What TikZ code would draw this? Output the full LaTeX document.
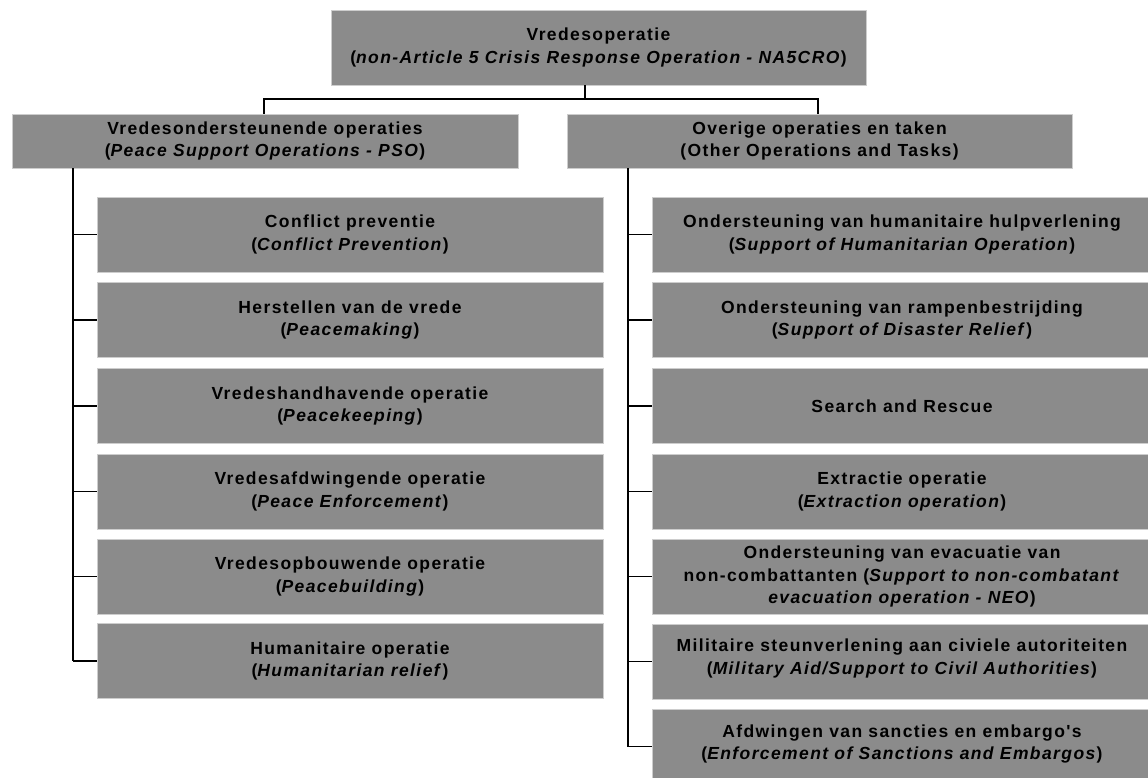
\documentclass[tikz,border=0pt]{standalone}
\usepackage{fontspec}
\setmainfont{Liberation Sans}[LetterSpace=8, Ligatures=TeXOff]
\definecolor{boxgray}{RGB}{139,139,139}
\definecolor{boxedge}{RGB}{205,205,205}
\tikzset{
  box/.style={rectangle, fill=boxgray, draw=boxedge, line width=0.8pt,
    inner sep=0pt, align=center, text=black,
    font=\bfseries\fontsize{17.5}{22.5}\selectfont},
  topbox/.style={box, minimum width=535pt, minimum height=75pt},
  headbox/.style={box, minimum width=506pt, minimum height=54pt},
  leftbox/.style={box, minimum width=506pt, minimum height=75pt},
  rightbox/.style={box, minimum width=500pt, minimum height=75pt},
  link/.style={draw=black, line width=1.3pt},
  mainlink/.style={draw=black, line width=1.9pt}
}
\begin{document}
\begin{tikzpicture}[x=1pt, y=-1pt]
\useasboundingbox[fill=white] (0,0) rectangle (1148,778);

% top of the hierarchy
\node[topbox] (top) at (598.5,47.5)
  {Vredesoperatie\\(\textit{non-Article 5 Crisis Response Operation - NA5CRO})};

% second level
\node[headbox] (pso) at (265,141)
  {Vredesondersteunende operaties\\(\textit{Peace Support Operations - PSO})};
\node[headbox, minimum width=505pt] (oot) at (819.5,141)
  {Overige operaties en taken\\(Other Operations and Tasks)};

% peace support operations
\node[leftbox] (l1) at (350,234.5) {Conflict preventie\\(\textit{Conflict Prevention})};
\node[leftbox] (l2) at (350,320)   {Herstellen van de vrede\\(\textit{Peacemaking})};
\node[leftbox] (l3) at (350,406)   {Vredeshandhavende operatie\\(\textit{Peacekeeping})};
\node[leftbox] (l4) at (350,491.5) {Vredesafdwingende operatie\\(\textit{Peace Enforcement})};
\node[leftbox] (l5) at (350,576.5) {Vredesopbouwende operatie\\(\textit{Peacebuilding})};
\node[leftbox] (l6) at (350,661)   {Humanitaire operatie\\(\textit{Humanitarian relief})};

% other operations and tasks
\node[rightbox] (r1) at (902,234.5) {Ondersteuning van humanitaire hulpverlening\\(\textit{Support of Humanitarian Operation})};
\node[rightbox] (r2) at (902,320)   {Ondersteuning van rampenbestrijding\\(\textit{Support of Disaster Relief})};
\node[rightbox] (r3) at (902,406)   {Search and Rescue};
\node[rightbox] (r4) at (902,491.5) {Extractie operatie\\(\textit{Extraction operation})};
\node[rightbox] (r5) at (902,576.5) {Ondersteuning van evacuatie van\\non-combattanten (\textit{Support to non-combatant}\\\textit{evacuation operation - NEO})};
\node[rightbox] (r6) at (902,661.5) {Militaire steunverlening aan civiele autoriteiten\\(\textit{Military Aid/Support to Civil Authorities})\\[-12.5pt]};
\node[rightbox] (r7) at (902,746.5) {Afdwingen van sancties en embargo's\\(\textit{Enforcement of Sanctions and Embargos})\\[-13.5pt]};

% junction points of the connectors
\coordinate (hub) at (585,99);
\coordinate (lstem) at (264,99);
\coordinate (rstem) at (818,99);
\coordinate (ltrunk) at (73,168);
\coordinate (rtrunk) at (628,168);

% top to second level
\draw[link] (top.south -| hub) -- (hub);
\draw[mainlink] (pso.north -| lstem) |- (rstem) -- (oot.north -| rstem);

% trunks
\draw[link] (pso.south -| ltrunk) -- (ltrunk |- l6.west);
\draw[link] (oot.south -| rtrunk) -- (rtrunk |- r7.west);

% branches
\foreach \n in {l1,l2,l5,l6}
  \draw[link] (ltrunk |- \n.west) -- (\n.west);
\foreach \n in {l3,l4}
  \draw[mainlink] (ltrunk |- \n.west) -- (\n.west);
\foreach \n in {r1,r2,r5,r6,r7}
  \draw[link] (rtrunk |- \n.west) -- (\n.west);
\foreach \n in {r3,r4}
  \draw[mainlink] (rtrunk |- \n.west) -- (\n.west);
\end{tikzpicture}
\end{document}
